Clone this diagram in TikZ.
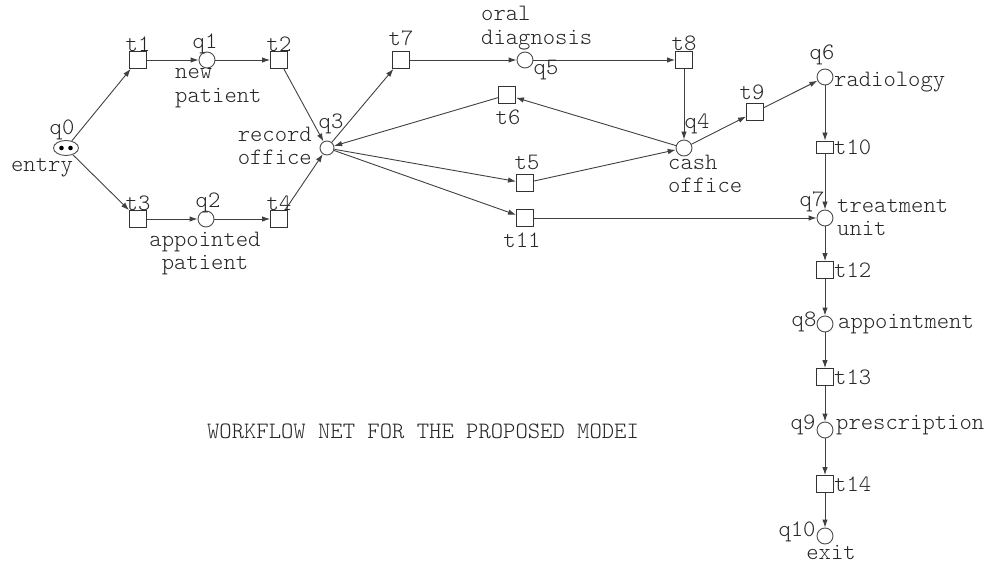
\documentclass[tikz,border=0pt]{standalone}
\usepackage{fontspec}
\setmainfont{Latin Modern Mono Light}
\usetikzlibrary{arrows.meta,shapes.geometric}
\begin{document}
\begin{tikzpicture}[x=1pt,y=-1pt,
  font=\fontsize{23.5}{23.5}\selectfont,
  place/.style={circle,draw=black!70,line width=0.9pt,minimum size=16pt,inner sep=0pt},
  smallplace/.style={place,minimum size=14pt},
  trans/.style={rectangle,draw=black!80,line width=0.9pt,minimum width=17pt,minimum height=17pt,inner sep=0pt},
  flat/.style={trans,minimum height=12pt},
  lbl/.style={inner sep=0pt,text=black!85},
  multi/.style={lbl,align=left},
  arc/.style={draw=black!75,line width=0.9pt,-{Latex[length=8pt,width=5.5pt]}}]
\useasboundingbox (0,0) rectangle (991,564);

% places
\node[ellipse,draw=black!70,line width=0.9pt,minimum width=25pt,minimum height=15pt,inner sep=0pt] (q0) at (66,148) {};
\fill (61.5,148) circle (2.3pt) (70.5,148) circle (2.3pt);
\node[place] (q1) at (207,60) {};
\node[place] (q2) at (206,219) {};
\node[smallplace] (q3) at (327,148) {};
\node[place] (q4) at (684,148) {};
\node[place] (q5) at (525,60) {};
\node[place] (q6) at (825,77) {};
\node[place] (q7) at (825,218) {};
\node[place] (q8) at (825,324) {};
\node[place] (q9) at (825,430) {};
\node[place] (q10) at (825,536) {};

% transitions
\node[trans] (t1) at (138,60) {};
\node[trans] (t2) at (279,60) {};
\node[trans] (t3) at (138,219) {};
\node[trans] (t4) at (279,219) {};
\node[trans] (t5) at (525,183) {};
\node[trans] (t6) at (507,95) {};
\node[trans] (t7) at (401,60) {};
\node[trans] (t8) at (684,60) {};
\node[trans] (t9) at (755,112) {};
\node[flat] (t10) at (825,147) {};
\node[trans] (t11) at (525,218) {};
\node[trans] (t12) at (825,270) {};
\node[trans] (t13) at (825,377) {};
\node[trans] (t14) at (825,484) {};

% arcs
\draw[arc] (q0) -- (t1);
\draw[arc] (q0) -- (t3);
\draw[arc] (t1) -- (q1);
\draw[arc] (q1) -- (t2);
\draw[arc] (t2) -- (q3);
\draw[arc] (t3) -- (q2);
\draw[arc] (q2) -- (t4);
\draw[arc] (t4) -- (q3);
\draw[arc] (q3) -- (t7);
\draw[arc] (t7) -- (q5);
\draw[arc] (q5) -- (t8);
\draw[arc] (t8) -- (q4);
\draw[arc] (q4) -- (t6);
\draw[arc] (t6) -- (q3);
\draw[arc] (q3) -- (t5);
\draw[arc] (t5) -- (q4);
\draw[arc] (q3) -- (t11);
\draw[arc] (t11) -- (q7);
\draw[arc] (q4) -- (t9);
\draw[arc] (t9) -- (q6);
\draw[arc] (q6) -- (t10);
\draw[arc] (t10) -- (q7);
\draw[arc] (q7) -- (t12);
\draw[arc] (t12) -- (q8);
\draw[arc] (q8) -- (t13);
\draw[arc] (t13) -- (q9);
\draw[arc] (q9) -- (t14);
\draw[arc] (t14) -- (q10);

% place labels
\node[lbl] (lq0) at (62,130) {q0};
\node[lbl] (lentry) at (42,168) {entry};
\node[lbl] (lq1) at (205,44) {q1};
\node[multi,anchor=west] (lnew) at (175,88) {new\\patient};
\node[lbl] (lq2) at (208,203) {q2};
\node[lbl,align=center] (lappt) at (205,253.5) {appointed\\patient};
\node[lbl] (lq3) at (331,124) {q3};
\node[lbl,align=right,anchor=east] (lrec) at (312,146) {record\\office};
\node[lbl] (lq4) at (697,124) {q4};
\node[multi,anchor=west] (lcash) at (668,174) {cash\\office};
\node[lbl] (lq5) at (546,70) {q5};
\node[multi,anchor=west] (loral) at (481,28) {oral\\diagnosis};
\node[lbl] (lq6) at (822,55) {q6};
\node[lbl,anchor=west] (lrad) at (834,82) {radiology};
\node[lbl] (lq7) at (812,202) {q7};
\node[multi,anchor=west] (ltreat) at (837,217.5) {treatment\\unit};
\node[lbl] (lq8) at (804,322) {q8};
\node[lbl,anchor=west] (lappm) at (838,324) {appointment};
\node[lbl] (lq9) at (803,425) {q9};
\node[lbl,anchor=west] (lpres) at (836,425) {prescription};
\node[lbl] (lq10) at (797,532) {q10};
\node[lbl] (lexit) at (831,552) {exit};

% transition labels
\node[lbl] (lt1) at (138,44) {t1};
\node[lbl] (lt2) at (279,44) {t2};
\node[lbl] (lt3) at (138,203) {t3};
\node[lbl] (lt4) at (279,203) {t4};
\node[lbl] (lt5) at (527,162) {t5};
\node[lbl] (lt6) at (508,117) {t6};
\node[lbl] (lt7) at (401,38) {t7};
\node[lbl] (lt8) at (684,43) {t8};
\node[lbl] (lt9) at (752,92) {t9};
\node[lbl,anchor=west] (lt10) at (834,147) {t10};
\node[lbl] (lt11) at (522,240) {t11};
\node[lbl,anchor=west] (lt12) at (834,270) {t12};
\node[lbl,anchor=west] (lt13) at (834,377) {t13};
\node[lbl,anchor=west] (lt14) at (834,484) {t14};

% caption
\node[lbl] (title) at (423,431) {WORKFLOW NET FOR THE PROPOSED MODEI};
\end{tikzpicture}
\end{document}
